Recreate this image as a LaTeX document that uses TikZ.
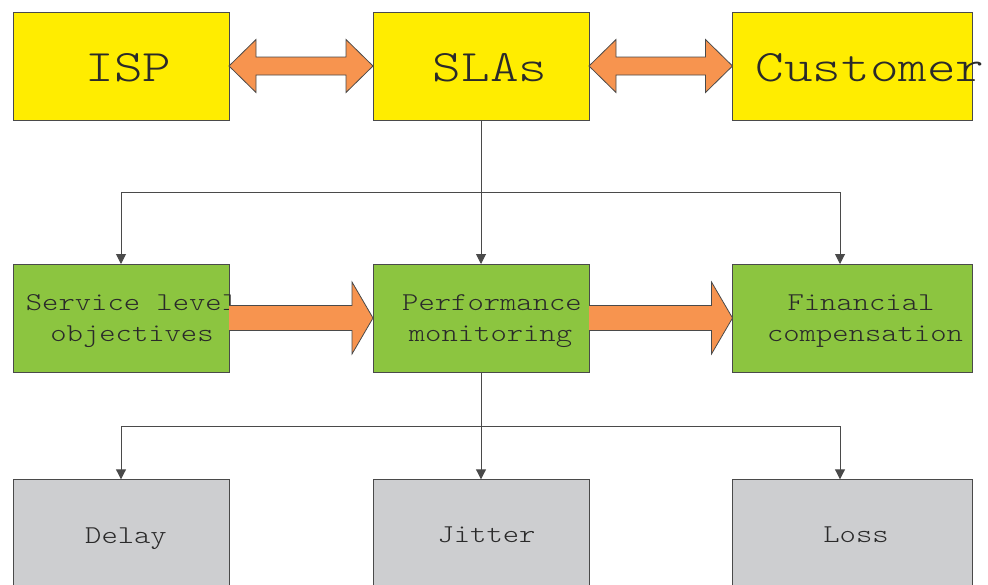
\documentclass[tikz,border=0pt]{standalone}
\usepackage{fontspec}
\usetikzlibrary{arrows.meta,calc}
\newfontfamily\monofont{lmmonolt10-regular.otf}[FakeStretch=1.21]

\definecolor{boxyellow}{HTML}{FFED00}
\definecolor{boxgreen}{HTML}{8CC540}
\definecolor{boxgray}{HTML}{CDCED0}
\definecolor{arroworange}{HTML}{F7944F}
\definecolor{edgegray}{HTML}{4A4A4A}
\definecolor{inkgray}{HTML}{2A2A2A}

\tikzset{
  box/.style={draw=edgegray, line width=1pt, minimum height=108pt, inner sep=0pt, outer sep=0pt},
  narrowbox/.style={box, minimum width=216pt},
  widebox/.style={box, minimum width=240pt},
  bigtext/.style={anchor=base, inner sep=0pt, text=inkgray, font=\monofont\fontsize{45}{48}\selectfont},
  smalltext/.style={anchor=base, inner sep=0pt, text=inkgray, font=\monofont\fontsize{25.7}{28}\selectfont},
  blockarrow/.style={draw=edgegray, line width=0.8pt, fill=arroworange, line join=miter},
  link/.style={draw=edgegray, line width=1pt},
  linkarrow/.style={link, -{Triangle[length=10pt,width=10pt]}},
}

% two-headed block arrow between two anchors
\newcommand\twowayarrow[2]{%
  \draw[blockarrow] (#1)
    -- ($(#1)+(27,-26.5)$) -- ($(#1)+(27,-9)$)
    -- ($(#2)+(-27,-9)$) -- ($(#2)+(-27,-26.5)$)
    -- (#2)
    -- ($(#2)+(-27,26.5)$) -- ($(#2)+(-27,9)$)
    -- ($(#1)+(27,9)$) -- ($(#1)+(27,26.5)$)
    -- cycle;}
% one-way block arrow between two anchors
\newcommand\onewayarrow[2]{%
  \draw[blockarrow] ($(#1)+(0,-12.5)$)
    -- ($(#2)+(-21,-12.5)$) -- ($(#2)+(-21,-36)$)
    -- (#2)
    -- ($(#2)+(-21,36)$) -- ($(#2)+(-21,12.5)$)
    -- ($(#1)+(0,12.5)$);}

\begin{document}
\begin{tikzpicture}[x=1pt, y=-1pt]
\useasboundingbox (0,0) rectangle (988,584);
\clip (0,0) rectangle (988,584);

% top row
\node[narrowbox, fill=boxyellow] (isp)  at (121,66) {};
\node[narrowbox, fill=boxyellow] (sla)  at (481,66) {};
\node[widebox,   fill=boxyellow] (cust) at (852.5,66) {};

% middle row
\node[narrowbox, fill=boxgreen] (slo)  at (121,318) {};
\node[narrowbox, fill=boxgreen] (perf) at (481,318) {};
\node[widebox,   fill=boxgreen] (fin)  at (852.5,318) {};

% bottom row
\node[narrowbox, fill=boxgray] (delay) at (121,533.3) {};
\node[narrowbox, fill=boxgray] (jit)   at (481,533.3) {};
\node[widebox,   fill=boxgray] (loss)  at (852.5,533.3) {};

% labels
\node[bigtext] (isp-t)  at (128.5,81.7) {ISP};
\node[bigtext] (sla-t)  at (490,81.5) {SLAs};
\node[bigtext] (cust-t) at (870,81.5) {Customer};

\node[smalltext] (slo-t1)  at (132,310) {Service level};
\node[smalltext] (slo-t2)  at (132,341.7) {objectives};
\node[smalltext] (perf-t1) at (492,310) {Performance};
\node[smalltext] (perf-t2) at (490.5,341.7) {monitoring};
\node[smalltext] (fin-t1)  at (861,310) {Financial};
\node[smalltext] (fin-t2)  at (865,341.7) {compensation};

\node[smalltext] (delay-t) at (126,543) {Delay};
\node[smalltext] (jit-t)   at (486.5,542) {Jitter};
\node[smalltext] (loss-t)  at (856,542.5) {Loss};

% block arrows
\twowayarrow{isp.east}{sla.west}
\twowayarrow{sla.east}{cust.west}
\onewayarrow{slo.east}{perf.west}
\onewayarrow{perf.east}{fin.west}

% connectors from SLAs to the middle row
\coordinate (split1) at ($(sla.south)+(0,72)$);
\coordinate (finin)  at ($(fin.north)+(-12.5,0)$);
\draw[link] (slo.north |- split1) -- (finin |- split1);
\draw[linkarrow] (sla.south) -- (perf.north);
\draw[linkarrow] (slo.north |- split1) -- (slo.north);
\draw[linkarrow] (finin |- split1) -- (finin);

% connectors from performance monitoring to the bottom row
\coordinate (split2) at ($(perf.south)+(0,54)$);
\coordinate (lossin) at ($(loss.north)+(-12.5,0)$);
\draw[link] (delay.north |- split2) -- (lossin |- split2);
\draw[linkarrow] (perf.south) -- (jit.north);
\draw[linkarrow] (delay.north |- split2) -- (delay.north);
\draw[linkarrow] (lossin |- split2) -- (lossin);
\end{tikzpicture}
\end{document}
